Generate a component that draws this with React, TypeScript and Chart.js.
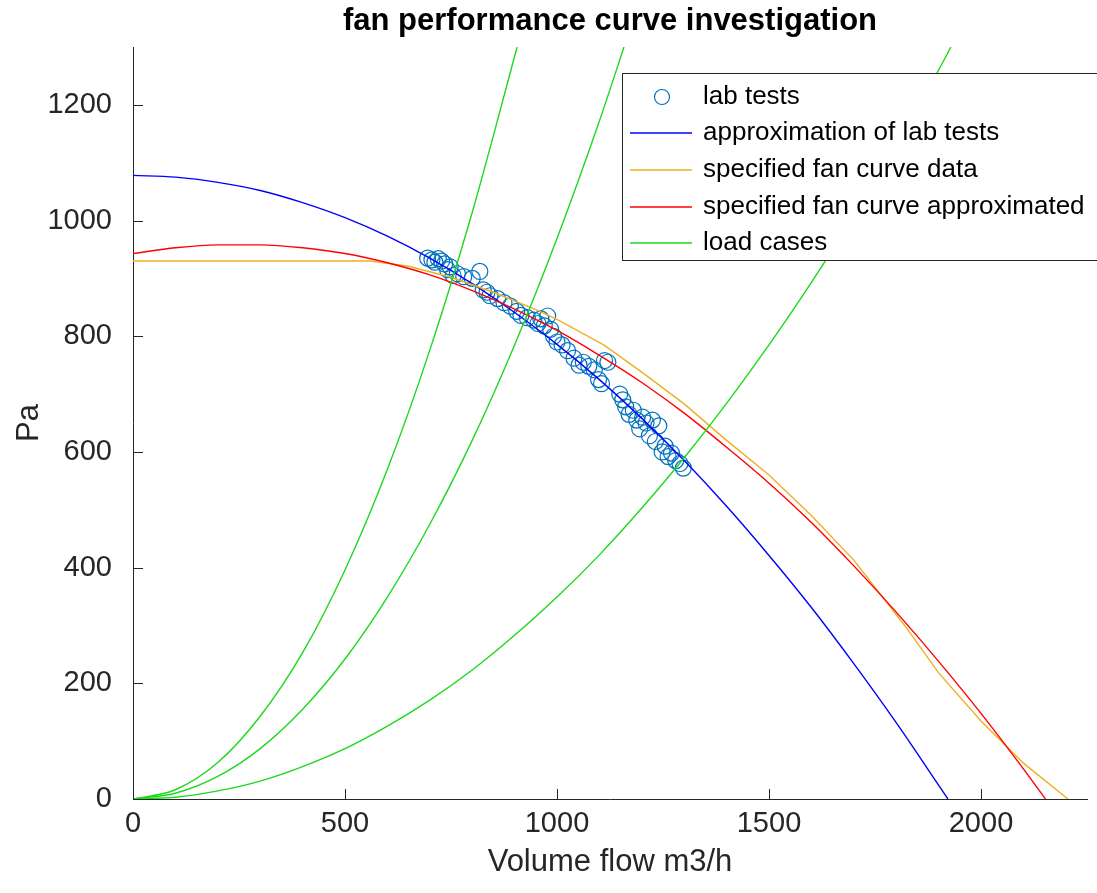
import { useEffect, useRef } from 'react';
import { Chart, registerables } from 'chart.js';

Chart.register(...registerables);

// Measured operating points from the lab (m3/h, Pa)
const labFlow = [
  695, 705, 712, 720, 728, 735, 742, 748, 755, 765,
  780, 800, 818, 826, 835, 842, 860, 875, 890, 905,
  915, 930, 945, 955, 962, 970, 978, 985, 992, 1000,
  1012, 1025, 1040, 1052, 1062, 1075, 1088, 1098, 1105, 1112,
  1120, 1148, 1155, 1162, 1170, 1180, 1188, 1195, 1202, 1210,
  1218, 1225, 1232, 1240, 1248, 1255, 1262, 1270, 1280, 1290,
  1298,
];
const labPressure = [
  935, 932, 928, 934, 930, 925, 915, 920, 905, 908,
  903, 900, 912, 880, 876, 870, 865, 858, 852, 843,
  836, 832, 828, 822, 830, 818, 835, 812, 800, 790,
  785, 775, 762, 750, 755, 748, 742, 725, 718, 758,
  755, 700, 690, 678, 665, 672, 655, 640, 660, 650,
  628, 655, 618, 645, 600, 610, 592, 598, 585, 580,
  572,
];

// Fitted curve through the lab points
const labFitFlow = [0, 100, 200, 300, 400, 500, 600, 700, 800, 900, 1000, 1100, 1200, 1300, 1400, 1500, 1600, 1700, 1800, 1900, 1922];
const labFitPressure = [1078, 1075, 1066, 1052, 1031, 1005, 973, 935, 891, 841, 786, 725, 658, 585, 506, 421, 331, 234, 132, 24, 0];

// Manufacturer's fan curve data
const specFlow = [0, 560, 650, 750, 850, 950, 1000, 1110, 1200, 1300, 1400, 1500, 1600, 1700, 1820, 1900, 2000, 2100, 2205];
const specPressure = [930, 930, 921, 902, 876, 846, 829, 785, 738, 683, 620, 560, 490, 413, 300, 218, 135, 62, 0];

// Fitted manufacturer's curve
const specFitFlow = [0, 100, 200, 300, 400, 500, 600, 700, 800, 900, 1000, 1100, 1200, 1300, 1400, 1500, 1600, 1700, 1800, 1900, 2000, 2100, 2152];
const specFitPressure = [943, 953, 958, 958, 953, 943, 927, 906, 879, 847, 810, 767, 720, 667, 608, 546, 478, 403, 323, 238, 148, 52, 0];

// System (load) curves
const load1Flow = [0, 100, 200, 300, 400, 500, 600, 700, 800, 906];
const load1Pressure = [0, 16, 63, 143, 253, 396, 570, 776, 1014, 1300];
const load2Flow = [0, 100, 200, 300, 400, 500, 600, 700, 800, 900, 1000, 1100, 1158];
const load2Pressure = [0, 10, 39, 87, 155, 242, 349, 475, 620, 785, 969, 1172, 1300];
const load3Flow = [0, 100, 200, 300, 400, 500, 600, 700, 800, 900, 1000, 1100, 1200, 1300, 1400, 1500, 1600, 1700, 1800, 1900, 1929];
const load3Pressure = [0, 3, 14, 31, 56, 87, 126, 171, 223, 283, 349, 422, 503, 590, 684, 785, 893, 1009, 1131, 1260, 1300];

const xTicks = [0, 500, 1000, 1500, 2000];
const yTicks = [0, 200, 400, 600, 800, 1000, 1200];

const legendLabels = [
  'lab tests',
  'approximation of lab tests',
  'specified fan curve data',
  'specified fan curve approximated',
  'load cases',
];

const COLORS = {
  lab: '#0072BD',
  labFit: '#0000FF',
  spec: '#EDB120',
  specFit: '#FF0000',
  load: '#1ED81E',
  axis: '#262626',
};

const FONT = '"Liberation Sans", Arial, sans-serif';

const zip = (xs: number[], ys: number[]) => xs.map((x, i) => ({ x, y: ys[i] }));

// Inward tick marks, MATLAB style
const innerTicks = {
  id: 'innerTicks',
  afterDatasetsDraw(chart: any) {
    const { ctx, chartArea, scales } = chart;
    ctx.save();
    ctx.strokeStyle = COLORS.axis;
    ctx.lineWidth = 1;
    ctx.beginPath();
    xTicks.forEach((v) => {
      const px = Math.round(scales.x.getPixelForValue(v)) + 0.5;
      ctx.moveTo(px, chartArea.bottom);
      ctx.lineTo(px, chartArea.bottom - 10);
    });
    yTicks.forEach((v) => {
      const py = Math.round(scales.y.getPixelForValue(v)) + 0.5;
      ctx.moveTo(chartArea.left, py);
      ctx.lineTo(chartArea.left + 10, py);
    });
    ctx.stroke();
    ctx.restore();
  },
};

// Boxed legend in the upper right of the axes
const boxLegend = {
  id: 'boxLegend',
  afterDraw(chart: any) {
    const { ctx } = chart;
    const left = 622;
    const top = 73;
    const width = 480;
    const height = 187;
    const rowY = [97, 133, 170, 207, 243];
    const styles = [
      { kind: 'marker', color: COLORS.lab },
      { kind: 'line', color: COLORS.labFit },
      { kind: 'line', color: COLORS.spec },
      { kind: 'line', color: COLORS.specFit },
      { kind: 'line', color: COLORS.load },
    ];
    ctx.save();
    ctx.fillStyle = '#ffffff';
    ctx.fillRect(left, top, width, height);
    ctx.strokeStyle = COLORS.axis;
    ctx.lineWidth = 1;
    ctx.strokeRect(left + 0.5, top + 0.5, width, height);
    styles.forEach((s, i) => {
      const y = rowY[i];
      if (s.kind === 'marker') {
        ctx.beginPath();
        ctx.strokeStyle = s.color;
        ctx.lineWidth = 1.2;
        ctx.arc(662, y, 7.5, 0, Math.PI * 2);
        ctx.stroke();
      } else {
        ctx.beginPath();
        ctx.strokeStyle = s.color;
        ctx.lineWidth = 1.5;
        ctx.moveTo(630, y);
        ctx.lineTo(692, y);
        ctx.stroke();
      }
      ctx.fillStyle = '#000000';
      ctx.font = `26px ${FONT}`;
      ctx.textBaseline = 'middle';
      ctx.textAlign = 'left';
      ctx.fillText(legendLabels[i], 703, y);
    });
    ctx.restore();
  },
};

export default function App() {
  const canvasRef = useRef<HTMLCanvasElement | null>(null);

  useEffect(() => {
    if (!canvasRef.current) return;
    const lineBase = {
      showLine: true,
      pointRadius: 0,
      pointHoverRadius: 0,
      borderWidth: 1.4,
      fill: false,
    };
    const chart = new Chart(canvasRef.current, {
      type: 'scatter',
      data: {
        datasets: [
          { ...lineBase, label: 'load cases', data: zip(load1Flow, load1Pressure), borderColor: COLORS.load, cubicInterpolationMode: 'monotone', order: 0 },
          { ...lineBase, label: 'load cases 2', data: zip(load2Flow, load2Pressure), borderColor: COLORS.load, cubicInterpolationMode: 'monotone', order: 0 },
          { ...lineBase, label: 'load cases 3', data: zip(load3Flow, load3Pressure), borderColor: COLORS.load, cubicInterpolationMode: 'monotone', order: 0 },
          { ...lineBase, label: legendLabels[3], data: zip(specFitFlow, specFitPressure), borderColor: COLORS.specFit, cubicInterpolationMode: 'monotone', order: 1 },
          { ...lineBase, label: legendLabels[2], data: zip(specFlow, specPressure), borderColor: COLORS.spec, tension: 0, order: 2 },
          { ...lineBase, label: legendLabels[1], data: zip(labFitFlow, labFitPressure), borderColor: COLORS.labFit, cubicInterpolationMode: 'monotone', order: 3 },
          {
            label: legendLabels[0],
            data: zip(labFlow, labPressure),
            showLine: false,
            pointRadius: 8,
            pointBorderWidth: 1.2,
            pointBorderColor: COLORS.lab,
            pointBackgroundColor: 'rgba(0,0,0,0)',
            borderColor: COLORS.lab,
            order: 4,
          },
        ],
      } as any,
      options: {
        responsive: false,
        animation: false,
        events: [],
        layout: { padding: { left: 0, right: 10, top: 0, bottom: 0 } },
        plugins: {
          legend: { display: false },
          tooltip: { enabled: false },
          title: {
            display: true,
            text: 'fan performance curve investigation',
            color: '#000000',
            fullSize: false,
            font: { family: FONT, size: 31, weight: 'bold' },
            padding: { top: 3, bottom: 6.8 },
          },
        },
        scales: {
          x: {
            type: 'linear',
            min: 0,
            max: 2250,
            afterBuildTicks: (scale: any) => {
              scale.ticks = xTicks.map((value) => ({ value }));
            },
            afterFit: (scale: any) => {
              scale.height = 94;
            },
            grid: { display: true, drawOnChartArea: false, drawTicks: false },
            border: { display: true, color: COLORS.axis, width: 1 },
            ticks: {
              color: COLORS.axis,
              font: { family: FONT, size: 29 },
              padding: 8,
              maxRotation: 0,
              callback: (value: any) => String(value),
            },
            title: {
              display: true,
              text: 'Volume flow m3/h',
              color: COLORS.axis,
              font: { family: FONT, size: 31 },
              padding: { top: 0, bottom: 12 },
            },
          },
          y: {
            type: 'linear',
            min: 0,
            max: 1300,
            afterBuildTicks: (scale: any) => {
              scale.ticks = yTicks.map((value) => ({ value }));
            },
            afterFit: (scale: any) => {
              scale.width = 133;
            },
            grid: { display: true, drawOnChartArea: false, drawTicks: false },
            border: { display: true, color: COLORS.axis, width: 1 },
            ticks: {
              color: COLORS.axis,
              font: { family: FONT, size: 29 },
              padding: 21,
              callback: (value: any) => String(value),
            },
            title: {
              display: true,
              text: 'Pa',
              color: COLORS.axis,
              font: { family: FONT, size: 31 },
              padding: { top: 11, bottom: 0 },
            },
          },
        },
      } as any,
      plugins: [innerTicks, boxLegend],
    });
    return () => chart.destroy();
  }, []);

  return (
    <div style={{ position: 'fixed', left: 0, top: 0, width: 1097, height: 893, background: '#ffffff' }}>
      <canvas ref={canvasRef} width={1097} height={893} />
    </div>
  );
}
